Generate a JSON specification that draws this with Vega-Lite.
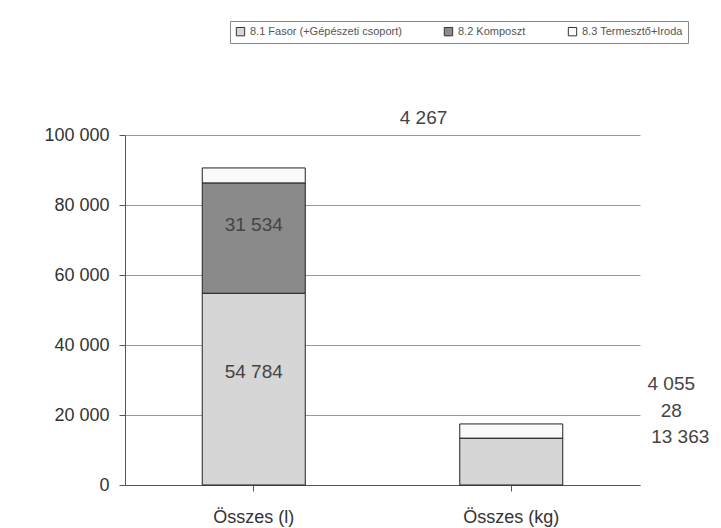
{
  "$schema": "https://vega.github.io/schema/vega-lite/v6.json",
  "width": 515,
  "height": 350,
  "autosize": {"type": "none"},
  "padding": {"left": 125, "top": 135, "right": 81, "bottom": 43},
  "background": "#ffffff",
  "config": {
    "font": "Liberation Sans",
    "view": {"stroke": null},
    "axis": {"labelFont": "Liberation Sans", "labelColor": "#333333", "domainColor": "#555555", "tickColor": "#555555"}
  },
  "data": {
    "values": [
      {"cat": "Összes (l)", "series": "8.1 Fasor (+Gépészeti csoport)", "order": 1, "value": 54784},
      {"cat": "Összes (l)", "series": "8.2 Komposzt", "order": 2, "value": 31534},
      {"cat": "Összes (l)", "series": "8.3 Termesztő+Iroda", "order": 3, "value": 4267},
      {"cat": "Összes (kg)", "series": "8.1 Fasor (+Gépészeti csoport)", "order": 1, "value": 13363},
      {"cat": "Összes (kg)", "series": "8.2 Komposzt", "order": 2, "value": 28},
      {"cat": "Összes (kg)", "series": "8.3 Termesztő+Iroda", "order": 3, "value": 4055}
    ]
  },
  "transform": [
    {"stack": "value", "groupby": ["cat"], "sort": [{"field": "order"}], "as": ["y0", "y1"]},
    {"calculate": "(datum.y0 + datum.y1) / 2", "as": "ymid"},
    {"calculate": "replace(format(datum.value, ','), ',', ' ')", "as": "lbl"}
  ],
  "encoding": {
    "x": {
      "field": "cat", "type": "nominal", "sort": ["Összes (l)", "Összes (kg)"],
      "scale": {"paddingInner": 0.6, "paddingOuter": 0.3},
      "axis": {"title": null, "labelAngle": 0, "labelFontSize": 18, "labelPadding": 17, "tickSize": 6, "domainColor": "#555555"}
    }
  },
  "layer": [
    {
      "mark": {"type": "bar", "stroke": "#222222", "strokeWidth": 1},
      "encoding": {
        "y": {
          "field": "y0", "type": "quantitative",
          "scale": {"domain": [0, 100000]},
          "axis": {"title": null, "values": [0, 20000, 40000, 60000, 80000, 100000], "labelExpr": "replace(format(datum.value, ','), ',', ' ')", "labelFontSize": 18, "labelPadding": 10, "tickSize": 6, "grid": true, "gridColor": "#999999", "gridWidth": 1}
        },
        "y2": {"field": "y1"},
        "color": {
          "field": "series", "type": "nominal",
          "sort": ["8.1 Fasor (+Gépészeti csoport)", "8.2 Komposzt", "8.3 Termesztő+Iroda"],
          "scale": {"domain": ["8.1 Fasor (+Gépészeti csoport)", "8.2 Komposzt", "8.3 Termesztő+Iroda"], "range": ["#d6d6d6", "#8a8a8a", "#fafafa"]},
          "legend": {
            "title": null, "orient": "none", "direction": "horizontal",
            "legendX": 105, "legendY": -114,
            "symbolType": "square", "symbolSize": 70, "symbolStrokeColor": "#333333", "symbolStrokeWidth": 1,
            "labelFontSize": 11, "labelColor": "#555555", "columnPadding": 40,
            "padding": 5, "strokeColor": "#888888", "fillColor": "#ffffff"
          }
        }
      }
    },
    {
      "transform": [{"filter": "datum.cat == 'Összes (l)' && datum.order == 1"}],
      "mark": {"type": "text", "fontSize": 19, "color": "#444444", "dy": -17},
      "encoding": {"y": {"field": "ymid", "type": "quantitative"}, "text": {"field": "lbl"}}
    },
    {
      "transform": [{"filter": "datum.cat == 'Összes (l)' && datum.order == 2"}],
      "mark": {"type": "text", "fontSize": 19, "color": "#444444", "dy": -13},
      "encoding": {"y": {"field": "ymid", "type": "quantitative"}, "text": {"field": "lbl"}}
    },
    {
      "transform": [{"filter": "datum.cat == 'Összes (l)' && datum.order == 3"}],
      "mark": {"type": "text", "fontSize": 19, "color": "#444444", "align": "left", "dx": 146, "dy": -50},
      "encoding": {"y": {"field": "y1", "type": "quantitative"}, "text": {"field": "lbl"}}
    },
    {
      "transform": [{"filter": "datum.cat == 'Összes (kg)' && datum.order == 3"}],
      "mark": {"type": "text", "fontSize": 19, "color": "#444444", "align": "center", "dx": 160, "dy": -47},
      "encoding": {"y": {"field": "ymid", "type": "quantitative"}, "text": {"field": "lbl"}}
    },
    {
      "transform": [{"filter": "datum.cat == 'Összes (kg)' && datum.order == 2"}],
      "mark": {"type": "text", "fontSize": 19, "color": "#444444", "align": "center", "dx": 160, "dy": -27},
      "encoding": {"y": {"field": "ymid", "type": "quantitative"}, "text": {"field": "lbl"}}
    },
    {
      "transform": [{"filter": "datum.cat == 'Összes (kg)' && datum.order == 1"}],
      "mark": {"type": "text", "fontSize": 19, "color": "#444444", "align": "center", "dx": 169, "dy": -25},
      "encoding": {"y": {"field": "ymid", "type": "quantitative"}, "text": {"field": "lbl"}}
    }
  ]
}
